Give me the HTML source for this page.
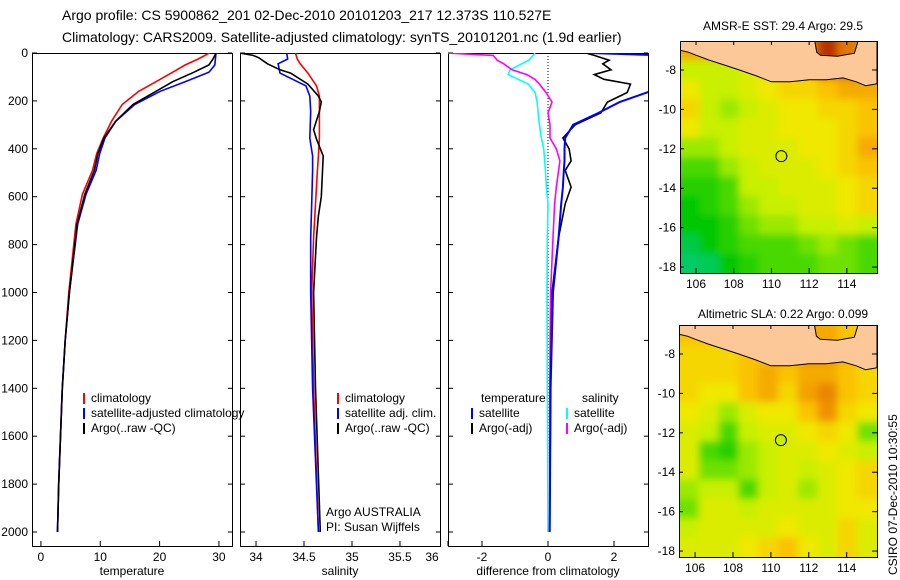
<!DOCTYPE html>
<html><head><meta charset="utf-8"><style>
body{margin:0;background:#fff}
svg{display:block;font-family:"Liberation Sans",sans-serif}
</style></head><body>
<svg id="c" width="900" height="580" viewBox="0 0 900 580">
<text x="62" y="20" font-size="14">Argo profile: CS 5900862_201 02-Dec-2010 20101203_217 12.373S 110.527E</text>
<text x="62" y="42" font-size="14">Climatology: CARS2009. Satellite-adjusted climatology: synTS_20101201.nc (1.9d earlier)</text>
<text x="783" y="30" font-size="12" text-anchor="middle">AMSR-E SST: 29.4 Argo: 29.5</text>
<text x="783" y="318" font-size="12" text-anchor="middle">Altimetric SLA: 0.22 Argo: 0.099</text>
<text transform="translate(897,575) rotate(-90)" font-size="12">CSIRO 07-Dec-2010 10:30:55</text>
<g id="g"></g>
</svg>
<script>
// depth levels (m)
const tDepth=[0,25,50,80,120,160,215,285,355,420,490,590,715,1000,1200,1400,1600,1800,2000];
const tClim=[28.4,26.5,24.3,22.2,19.4,16.5,13.7,11.9,10.5,9.4,8.7,7.0,5.9,4.7,4.1,3.6,3.3,3.0,2.8];
const tSat=[29.5,29.4,29.3,28.3,24.3,20.1,15.8,12.6,10.8,9.9,9.3,7.6,6.2,4.8,4.1,3.6,3.3,3.0,2.8];
const tArgo=[29.5,29.0,28.3,25.8,22.2,19.4,15.5,12.6,10.6,9.6,9.0,7.4,6.1,4.8,4.1,3.6,3.3,3.0,2.8];
const sDepth=[0,25,45,84,137,180,244,355,430,490,630,770,1000,1400,2000];
const sClim=[34.41,34.43,34.46,34.54,34.63,34.66,34.66,34.66,34.65,34.64,34.62,34.6,34.58,34.6,34.65];
const sSat=[34.32,34.33,34.23,34.25,34.52,34.56,34.57,34.56,34.59,34.59,34.58,34.57,34.57,34.59,34.65];
const aDepth=[0,10,20,45,70,84,130,180,204,244,320,360,430,520,600,680,770,1000,1400,2000];
const sArgo=[33.83,33.97,34.03,34.12,34.25,34.36,34.54,34.65,34.68,34.66,34.6,34.63,34.7,34.69,34.68,34.65,34.63,34.6,34.62,34.67];
const dDepth=[0,10,30,45,70,90,110,130,165,205,250,300,355,400,450,490,560,630,770,1000,1400,2000];
const dTsat=[1.27,3.5,3.5,3.5,3.5,3.5,3.5,3.5,3.0,2.17,1.53,0.76,0.52,0.5,0.5,0.48,0.45,0.4,0.32,0.15,0.08,0.05];
const dTargo=[1.15,1.4,1.85,1.66,1.91,1.4,1.7,2.5,2.4,1.8,1.6,0.82,0.45,0.64,0.7,0.52,0.7,0.52,0.32,0.12,0.08,0.05];
const dSsat=[-0.39,-0.45,-0.58,-0.8,-1.15,-1.21,-0.9,-0.6,-0.39,-0.33,-0.3,-0.26,-0.2,-0.13,-0.1,-0.08,-0.05,0,-0.02,-0.03,-0.02,0];
const dSargo=[-3.1,-1.66,-1.54,-1.34,-1.09,-0.64,-0.4,-0.26,-0.06,0.12,0.0,0.06,0.06,0.25,0.36,0.32,0.25,0.2,0.15,0.08,0.05,0.05];
const tTicks=[0,10,20,30], sTicks=[34,34.5,35,35.5,36], dTicks=[-2,0,2];
const depthTicks=[0,200,400,600,800,1000,1200,1400,1600,1800,2000];
// map grids: 10 lon columns x 12 lat rows, value 0 (teal) .. 1 (dark red)
const sstGrid=[
[0.7,0.7,0.7,0.7,0.75,0.75,0.8,0.92,0.8,0.75],
[0.45,0.45,0.45,0.5,0.55,0.6,0.65,0.8,0.8,0.8],
[0.55,0.45,0.45,0.5,0.55,0.6,0.6,0.65,0.7,0.7],
[0.6,0.45,0.4,0.45,0.5,0.55,0.55,0.6,0.6,0.65],
[0.55,0.45,0.45,0.5,0.5,0.55,0.55,0.55,0.6,0.65],
[0.4,0.4,0.45,0.5,0.5,0.5,0.55,0.55,0.6,0.7],
[0.3,0.3,0.4,0.45,0.5,0.5,0.5,0.55,0.6,0.65],
[0.25,0.25,0.3,0.45,0.45,0.5,0.5,0.5,0.55,0.6],
[0.2,0.25,0.3,0.4,0.45,0.45,0.5,0.5,0.55,0.6],
[0.2,0.2,0.25,0.35,0.4,0.4,0.45,0.45,0.5,0.45],
[0.12,0.2,0.25,0.3,0.3,0.3,0.35,0.4,0.35,0.3],
[0.08,0.1,0.2,0.25,0.3,0.3,0.3,0.35,0.35,0.3]];
const slaGrid=[
[0.65,0.65,0.65,0.7,0.7,0.7,0.7,0.7,0.65,0.6],
[0.6,0.6,0.6,0.65,0.65,0.7,0.75,0.75,0.7,0.65],
[0.6,0.6,0.6,0.65,0.7,0.65,0.7,0.7,0.65,0.6],
[0.6,0.55,0.55,0.65,0.7,0.6,0.72,0.77,0.65,0.6],
[0.55,0.5,0.4,0.5,0.55,0.55,0.65,0.75,0.6,0.55],
[0.5,0.45,0.3,0.45,0.5,0.5,0.55,0.6,0.55,0.35],
[0.5,0.3,0.25,0.4,0.45,0.5,0.5,0.55,0.5,0.45],
[0.5,0.35,0.35,0.4,0.45,0.5,0.45,0.5,0.55,0.6],
[0.4,0.45,0.45,0.3,0.45,0.5,0.4,0.5,0.55,0.6],
[0.35,0.5,0.5,0.45,0.5,0.5,0.5,0.5,0.55,0.55],
[0.45,0.5,0.5,0.5,0.5,0.55,0.5,0.5,0.6,0.5],
[0.5,0.5,0.5,0.55,0.6,0.65,0.55,0.5,0.6,0.5]];
const lonTicks=[106,108,110,112,114], latTicks=[-8,-10,-12,-14,-16,-18];
const argoLon=110.527, argoLat=-12.373;
const coastLon=[105.15,105.15,105.6,106.0,106.7,107.5,108.3,109.2,110.0,111.0,112.0,112.9,113.8,114.5,115.0,115.6,115.6,114.6,114.4,113.5,112.6,112.4,112.3];
const coastLat=[-6.53,-7.0,-7.1,-7.25,-7.5,-7.75,-8.0,-8.3,-8.6,-8.6,-8.5,-8.5,-8.4,-8.6,-8.8,-8.7,-6.53,-6.53,-7.15,-7.3,-7.25,-7.1,-6.53];

const NS='http://www.w3.org/2000/svg', G=document.getElementById('g');
function mk(t,a,p){const e=document.createElementNS(NS,t);for(const k in a)e.setAttribute(k,a[k]);(p||G).appendChild(e);return e;}
const Y=d=>53+d*0.2395, TOP=53, BOT=546;
const panels=[{x0:32,x1:232,v0:-1.5,v1:32.2},{x0:240,x1:440,v0:33.833,v1:35.917},{x0:448,x1:648,v0:-3.03,v1:3.03}];
function X(p,v){return p.x0+(v-p.v0)/(p.v1-p.v0)*(p.x1-p.x0);}
function line(p,ds,vs,col,w,name){
  const cp=p.clip;
  const e=mk('polyline',{points:ds.map((d,i)=>X(p,vs[i]).toFixed(1)+','+Y(d).toFixed(1)).join(' '),fill:'none',stroke:col,'stroke-width':w,'clip-path':'url(#'+cp+')'});
  
  
}
const defs=mk('defs',{});
const blur=mk('filter',{id:'blur',x:'-5%',y:'-5%',width:'110%',height:'110%'},defs);
mk('feGaussianBlur',{stdDeviation:4},blur);
panels.forEach((p,i)=>{
  p.clip='cp'+i;
  const c=mk('clipPath',{id:p.clip},defs);mk('rect',{x:p.x0,y:TOP,width:p.x1-p.x0,height:BOT-TOP},c);
});
const xlab=['temperature','salinity','difference from climatology'];
const xt=[tTicks,sTicks,dTicks];
panels.forEach((p,i)=>{
  const r=mk('rect',{x:p.x0+0.5,y:TOP+0.5,width:p.x1-p.x0,height:BOT-TOP,fill:'none',stroke:'#000'});
  
  
  depthTicks.forEach(d=>{mk('line',{x1:p.x0,x2:p.x0+5,y1:Y(d),y2:Y(d),stroke:'#000'});mk('line',{x1:p.x1-4,x2:p.x1,y1:Y(d),y2:Y(d),stroke:'#000'});});
  xt[i].forEach(v=>{const x=X(p,v);mk('line',{x1:x,x2:x,y1:BOT-5,y2:BOT,stroke:'#000'});
    const t=mk('text',{x:Math.min(x,p.x1-8),y:561,'font-size':12,'text-anchor':'middle'});t.textContent=String(v);
    
    });
  const t=mk('text',{x:(p.x0+p.x1)/2,y:575,'font-size':12,'text-anchor':'middle'});t.textContent=xlab[i];
  
  
});
depthTicks.forEach(d=>{const t=mk('text',{x:28,y:Y(d)+4,'font-size':12,'text-anchor':'end'});t.textContent=String(d);
  
  });
const P1=panels[0],P2=panels[1],P3=panels[2];
line(P1,tDepth,tClim,'#f00',1.6,'temp-climatology-line');
line(P1,tDepth,tSat,'#00f',1.6,'temp-satellite-line');
line(P1,tDepth,tArgo,'#000',1.6,'temp-argo-line');
line(P2,sDepth,sClim,'#f00',1.6,'sal-climatology-line');
line(P2,sDepth,sSat,'#00f',1.6,'sal-satellite-line');
line(P2,aDepth,sArgo,'#000',1.6,'sal-argo-line');
mk('line',{x1:X(P3,0),x2:X(P3,0),y1:TOP,y2:BOT-15,stroke:'#000','stroke-dasharray':'1,2'});
line(P3,dDepth,dSsat,'#0ff',1.6,'diff-sal-satellite-line');
line(P3,dDepth,dSargo,'#f0f',1.6,'diff-sal-argo-line');
line(P3,dDepth,dTargo,'#000',1.6,'diff-temp-argo-line');
line(P3,dDepth,dTsat,'#00f',2,'diff-temp-satellite-line');
function leg(x,y,col,txt,name){
  if(col)mk('rect',{x:x,y:y-9,width:2,height:11,fill:col});
  const t=mk('text',{x:x+8,y:y,'font-size':12});t.textContent=txt;
  
  
}
leg(83,402,'#f00','climatology','legend-temp-climatology');
leg(83,417,'#00f','satellite-adjusted climatology','legend-temp-satellite');
leg(83,432,'#000','Argo(..raw -QC)','legend-temp-argo');
leg(337,402,'#f00','climatology','legend-sal-climatology');
leg(337,417,'#00f','satellite adj. clim.','legend-sal-satellite');
leg(337,432,'#000','Argo(..raw -QC)','legend-sal-argo');
leg(318,516,null,'Argo AUSTRALIA','argo-institution');
leg(318,531,null,'PI: Susan Wijffels','argo-pi');
leg(473,402,null,'temperature','legend-diff-temperature-header');
leg(471,417,'#00f','satellite','legend-diff-temp-satellite');
leg(471,432,'#000','Argo(-adj)','legend-diff-temp-argo');
leg(574,402,null,'salinity','legend-diff-salinity-header');
leg(566,417,'#0ff','satellite','legend-diff-sal-satellite');
leg(566,432,'#f0f','Argo(-adj)','legend-diff-sal-argo');
// colormap
const cs=[[0,[0,205,170]],[0.2,[0,200,0]],[0.35,[110,225,0]],[0.45,[200,240,0]],[0.55,[240,232,0]],[0.65,[250,195,0]],[0.75,[240,145,0]],[0.85,[210,95,0]],[1,[150,0,0]]];
function cmap(v){for(let i=1;i<cs.length;i++){if(v<=cs[i][0]){const a=cs[i-1],b=cs[i],f=(v-a[0])/(b[0]-a[0]);return 'rgb('+a[1].map((c,k)=>Math.round(c+(b[1][k]-c)*f)).join(',')+')';}}return 'rgb(150,0,0)';}
function drawMap(m,grid,name){
  const LX=lon=>m.x0+(lon-105.15)*(m.x1-m.x0)/(115.6-105.15);
  const LY=lat=>m.y0+(-6.53-lat)*(m.y1-m.y0)/(18.3-6.53);
  const cid='mc'+name;const c=mk('clipPath',{id:cid},defs);mk('rect',{x:m.x0,y:m.y0,width:m.x1-m.x0,height:m.y1-m.y0},c);
  const g=mk('g',{'clip-path':'url(#'+cid+')'});
  
  
  const cg=mk('g',{filter:'url(#blur)'},g);
  const nr=grid.length,nc=grid[0].length,cw=(m.x1-m.x0)/nc,ch=(m.y1-m.y0)/nr;
  grid.forEach((row,r)=>row.forEach((v,k)=>{
    const ex=(k===0?-8:0),ey=(r===0?-8:0),ew=(k===nc-1?8:0),eh=(r===nr-1?8:0);
    const e=mk('rect',{x:m.x0+k*cw+ex,y:m.y0+r*ch+ey,width:cw+0.6-ex+ew,height:ch+0.6-ey+eh,fill:cmap(v)},cg);
    
    
  }));
  const land=mk('polygon',{points:coastLon.map((l,i)=>LX(l).toFixed(1)+','+LY(coastLat[i]).toFixed(1)).join(' '),fill:'#fcc898',stroke:'#000','stroke-width':1},g);
  
  
  const r=mk('rect',{x:m.x0+0.5,y:m.y0+0.5,width:m.x1-m.x0,height:m.y1-m.y0,fill:'none',stroke:'#000'});
  
  
  lonTicks.forEach(l=>{const x=LX(l);mk('line',{x1:x,x2:x,y1:m.y1-5,y2:m.y1,stroke:'#000'});mk('line',{x1:x,x2:x,y1:m.y0,y2:m.y0+4,stroke:'#000'});
    const t=mk('text',{x:x,y:m.y1+15,'font-size':12,'text-anchor':'middle'});t.textContent=String(l);
    
    });
  latTicks.forEach(l=>{const y=LY(l);mk('line',{x1:m.x0,x2:m.x0+4,y1:y,y2:y,stroke:'#000'});mk('line',{x1:m.x1-5,x2:m.x1,y1:y,y2:y,stroke:'#000'});
    const t=mk('text',{x:m.x0-4,y:y+4,'font-size':12,'text-anchor':'end'});t.textContent=String(l);
    
    });
  const o=mk('circle',{cx:LX(argoLon),cy:LY(argoLat),r:5.5,fill:name==='sla'?cmap(0.45):'none',stroke:'#000','stroke-width':1});
  
  
}
drawMap({x0:680,x1:877,y0:41,y1:273},sstGrid,'sst');
drawMap({x0:679,x1:877,y0:325,y1:557},slaGrid,'sla');
</script>
</body></html>
